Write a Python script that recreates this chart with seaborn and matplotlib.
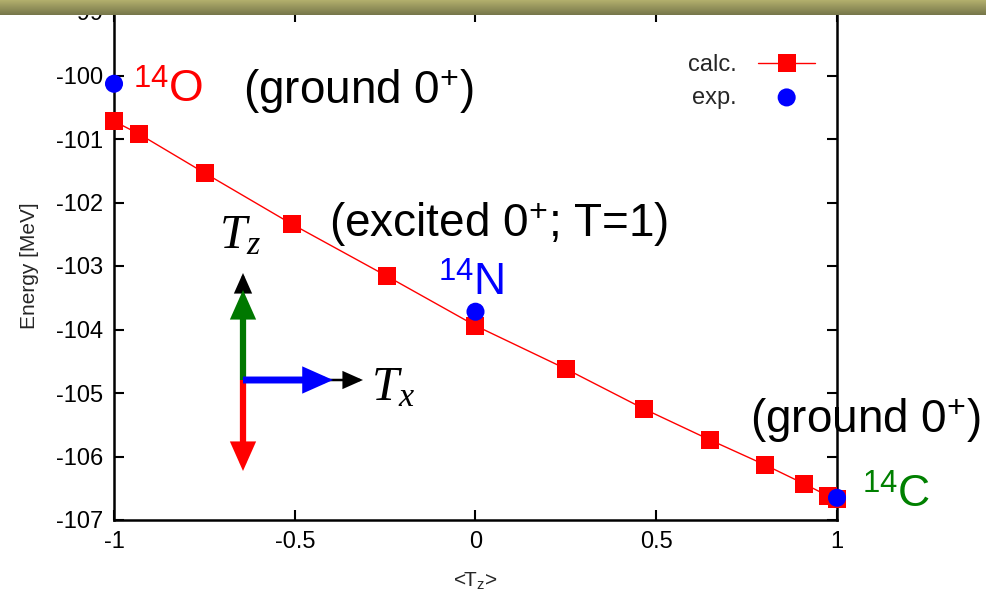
import numpy as np
import pandas as pd
import matplotlib
matplotlib.use("Agg")
import matplotlib.pyplot as plt
from matplotlib.colors import LinearSegmentedColormap
from matplotlib.patches import FancyArrowPatch
import seaborn as sns

# Calculated isobaric-analogue energies along <T_z>
tz_calc = [-1.0, -0.931, -0.748, -0.508, -0.245, 0.0, 0.25, 0.466, 0.649, 0.80, 0.909, 0.975, 1.0]
e_calc = [-100.72, -100.92, -101.54, -102.34, -103.16, -103.94, -104.62, -105.25,
          -105.74, -106.13, -106.43, -106.62, -106.67]

# Experimental values for 14O, 14N (T=1 excited 0+) and 14C
tz_exp = [-1.0, 0.0, 1.0]
e_exp = [-100.13, -103.72, -106.65]

x_ticks = [-1, -0.5, 0, 0.5, 1]
x_tick_labels = ["-1", "-0.5", "0", "0.5", "1"]
y_ticks = [-107, -106, -105, -104, -103, -102, -101, -100, -99]

W, H = 986, 590

sns.set_style("ticks")
plt.rcParams["font.family"] = ["Liberation Sans", "DejaVu Sans"]
plt.rcParams["mathtext.fontset"] = "custom"
plt.rcParams["mathtext.rm"] = "Liberation Sans"
plt.rcParams["mathtext.it"] = "Liberation Serif:italic"
plt.rcParams["mathtext.bf"] = "Liberation Sans:bold"


def fx(px):
    return px / W


def fy(py):
    return 1 - py / H


fig = plt.figure(figsize=(W / 100, H / 100), dpi=100)
ax = fig.add_axes([fx(114), fy(520), (837 - 114) / W, (520 - 12) / H])

calc = pd.DataFrame({"tz": tz_calc, "E": e_calc})
exp = pd.DataFrame({"tz": tz_exp, "E": e_exp})

sns.lineplot(data=calc, x="tz", y="E", ax=ax, color="#ff0000", linewidth=1.0,
             marker="s", markersize=13, markeredgewidth=0, label="calc.",
             clip_on=False, zorder=3)
sns.scatterplot(data=exp, x="tz", y="E", ax=ax, color="#0000ff", s=169,
                edgecolor="none", label="exp.", clip_on=False, zorder=4)

ax.set_xlim(-1, 1)
ax.set_ylim(-107, -99)
ax.set_xticks(x_ticks)
ax.set_xticklabels(x_tick_labels)
ax.set_yticks(y_ticks)
ax.set_yticklabels([str(v) for v in y_ticks])
ax.tick_params(direction="in", length=7, width=1.5, top=True, right=True,
               labelsize=17, pad=8, colors="black")
for s in ax.spines.values():
    s.set_linewidth(1.8)
    s.set_color("black")

ax.set_xlabel(r"<T$_\mathrm{z}$>", fontsize=15, labelpad=12)
ax.set_ylabel("Energy [MeV]", fontsize=15, labelpad=12)

ax.legend(loc="upper right", bbox_to_anchor=(fx(815), fy(54)),
          bbox_transform=fig.transFigure, frameon=False, markerfirst=False,
          handlelength=2.4, handletextpad=0.9, borderpad=0, borderaxespad=0,
          labelspacing=0.45, fontsize=17)

# Nucleus and state labels
def label(px, py, s, color, size):
    fig.text(fx(px), fy(py), s, color=color, fontsize=size, ha="left", va="baseline")

label(133, 102, r"$^{14}$O", "#ff0000", 32)
label(243, 103, r"(ground 0$^{+}$)", "black", 33)
label(329, 236, r"(excited 0$^{+}$; T=1)", "black", 33)
label(438, 295, r"$^{14}$N", "#0000ff", 32)
label(750, 432, r"(ground 0$^{+}$)", "black", 33)
label(862, 507, r"$^{14}$C", "#008000", 32)

# Isospin axes sketch
ox, oy = 243, 380


def arrow(x0, y0, x1, y1, color, lw, scale):
    fig.add_artist(FancyArrowPatch((fx(x0), fy(y0)), (fx(x1), fy(y1)),
                                   transform=fig.transFigure,
                                   arrowstyle="-|>,head_length=0.45,head_width=0.2",
                                   mutation_scale=scale, color=color, lw=lw,
                                   joinstyle="miter", capstyle="butt",
                                   shrinkA=0, shrinkB=0, zorder=5))

arrow(ox, oy, ox, 273, "black", 1.8, 26)
arrow(ox, oy, 363, oy, "black", 1.8, 26)
arrow(ox, oy, ox, 290, "#007800", 4.5, 30)
arrow(ox, oy, ox, 471, "#ff0000", 4.5, 30)
arrow(ox, oy, 333, oy, "#0000ff", 5, 30)

fig.text(fx(219), fy(248), r"$T_z$", fontsize=35, ha="left", va="baseline", color="black")
fig.text(fx(371), fy(400), r"$T_x$", fontsize=35, ha="left", va="baseline", color="black")

# Olive header strip
band = fig.add_axes([0, fy(15), 1, 15 / H], zorder=10)
grad = np.linspace(0, 1, 50).reshape(-1, 1)
cmap = LinearSegmentedColormap.from_list("olive", ["#b3b06d", "#76764a"])
band.imshow(grad, aspect="auto", cmap=cmap, extent=[0, 1, 0, 1])
band.set_axis_off()

fig.savefig("out.png", dpi=100)
